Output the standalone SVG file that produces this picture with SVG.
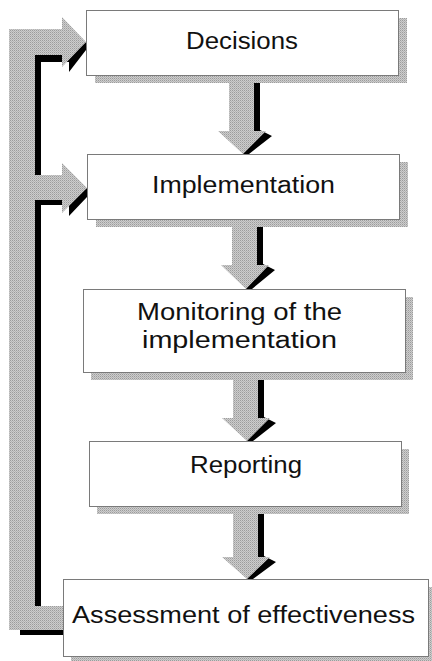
<svg xmlns="http://www.w3.org/2000/svg" width="432" height="661" viewBox="0 0 432 661">
  <defs>
    <!-- halftone grey used for arrow bodies and box shadows -->
    <pattern id="dither" width="2" height="2" patternUnits="userSpaceOnUse">
      <rect width="2" height="2" fill="#cdcdcd"/>
      <rect width="1" height="1" fill="#9c9c9c"/>
      <rect x="1" y="1" width="1" height="1" fill="#b4b4b4"/>
    </pattern>
  </defs>
  <style>
    .body { fill: url(#dither); }
    .edge { fill: #000; }
    .shadow { fill: url(#dither); }
    .box { fill: #fff; stroke: #7a7a7a; stroke-width: 1; }
    .label { font-family: "Liberation Sans", Arial, sans-serif; font-size: 23px; fill: #111; }
  </style>

  <rect width="432" height="661" fill="#fff"/>

  <g id="connectors">
    <!-- feedback loop on the left: black edge first, grey body on top -->
    <path class="edge" d="M35,55 H70 L86,42 V50 L69,72 V62 H41 V606 H35 Z"/>
    <path class="edge" d="M41,200 H70 L87,188 V197 L69,216 V205 H41 Z"/>
    <rect class="edge" x="20" y="628" width="43" height="7"/>
    <path class="body" d="M9,29 H62 V17 L86,42 L62,67 V55 H35 V175 H62 V163 L87,188 L62,213 V200 H35 V606 H66 V630 H9 Z"/>

    <!-- downward arrows between steps -->
    <path class="edge" d="M254,75 H260 V130 L272,136 L249,154 L243,154 Z"/>
    <path class="body" d="M229,75 H254 V131 H266 L243,154 L218,131 H229 Z"/>

    <path class="edge" d="M257,219 H263 V264 L275,270 L252,289 L246,289 Z"/>
    <path class="body" d="M232,219 H257 V265 H269 L246,289 L221,265 H232 Z"/>

    <path class="edge" d="M258,372 H264 V417 L276,423 L253,441 L247,441 Z"/>
    <path class="body" d="M233,372 H258 V418 H270 L247,441 L222,418 H233 Z"/>

    <path class="edge" d="M258,506 H264 V556 L276,562 L253,579 L247,579 Z"/>
    <path class="body" d="M233,506 H258 V557 H270 L247,579 L222,557 H233 Z"/>
  </g>

  <g id="decisions">
    <rect class="shadow" x="95" y="18" width="312" height="65"/>
    <rect class="box" x="86.5" y="10.5" width="312" height="65"/>
    <text class="label" x="186" y="49" textLength="112" lengthAdjust="spacingAndGlyphs">Decisions</text>
  </g>

  <g id="implementation">
    <rect class="shadow" x="96" y="162" width="312" height="65"/>
    <rect class="box" x="87.5" y="154.5" width="312" height="65"/>
    <text class="label" x="152" y="193" textLength="183" lengthAdjust="spacingAndGlyphs">Implementation</text>
  </g>

  <g id="monitoring">
    <rect class="shadow" x="91" y="297" width="322" height="83"/>
    <rect class="box" x="83.5" y="289.5" width="322" height="83"/>
    <text class="label" x="137" y="320" textLength="205" lengthAdjust="spacingAndGlyphs">Monitoring of the</text>
    <text class="label" x="142" y="348" textLength="195" lengthAdjust="spacingAndGlyphs">implementation</text>
  </g>

  <g id="reporting">
    <rect class="shadow" x="97" y="449" width="312" height="65"/>
    <rect class="box" x="89.5" y="441.5" width="312" height="65"/>
    <text class="label" x="190" y="473" textLength="112" lengthAdjust="spacingAndGlyphs">Reporting</text>
  </g>

  <g id="assessment">
    <rect class="shadow" x="71" y="587" width="365" height="77"/>
    <rect class="box" x="63.5" y="579.5" width="365" height="77"/>
    <text class="label" x="72" y="623" textLength="343" lengthAdjust="spacingAndGlyphs">Assessment of effectiveness</text>
  </g>
</svg>
